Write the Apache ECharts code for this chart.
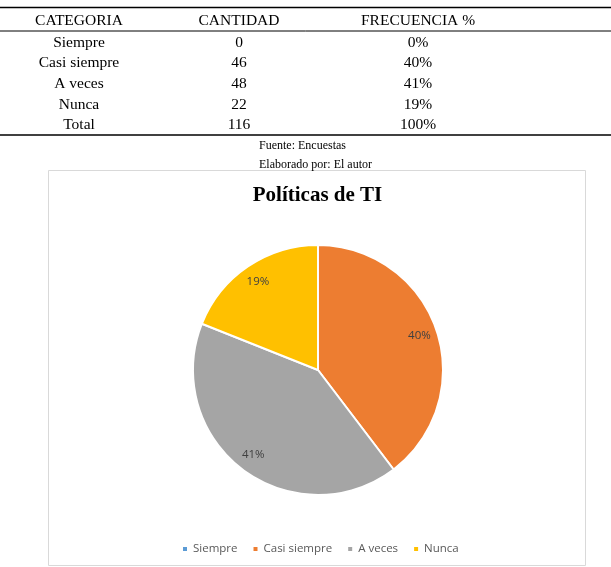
<!DOCTYPE html>
<html>
<head>
<meta charset="utf-8">
<script src="https://cdn.jsdelivr.net/npm/echarts@6/dist/echarts.min.js"></script>
<style>
  html, body { margin: 0; padding: 0; background: #fff; }
  #chart { width: 611px; height: 567px; }
</style>
</head>
<body>
<div id="chart"></div>
<script>
// datos de la tabla y del grafico
const headers = ['CATEGORIA', 'CANTIDAD', 'FRECUENCIA %']
const categories = ['Siempre', 'Casi siempre', 'A veces', 'Nunca']
const counts = [0, 46, 48, 22]
const freqLabels = ['0%', '40%', '41%', '19%']
const totalRow = ['Total', '116', '100%']
const notes = ['Fuente: Encuestas', 'Elaborado por: El autor']
const chartTitle = 'Políticas de TI'
const colors = ['#5B9BD5', '#ED7D31', '#A5A5A5', '#FFC000']

const colX = [79, 239, 418]
const rowY = [20.5, 42.5, 63, 83.5, 104.5, 125]
const serif = '"Liberation Serif", "Times New Roman", serif'
const sans = '"Open Sans", Lato, sans-serif'

// tabla como elementos graficos
const graphic = []
const cellText = (txt, x, y) => ({
  type: 'text', x: x, y: y, silent: true,
  style: { text: txt, font: '15.5px ' + serif, fill: '#000', align: 'center', verticalAlign: 'middle' }
})
headers.forEach((h, i) => graphic.push(cellText(h, colX[i], rowY[0])))
categories.forEach((c, r) => {
  const row = [c, String(counts[r]), freqLabels[r]]
  row.forEach((v, i) => graphic.push(cellText(v, colX[i], rowY[r + 1])))
})
totalRow.forEach((v, i) => graphic.push(cellText(v, colX[i], rowY[5])))
notes.forEach((n, i) => graphic.push({
  type: 'text', x: 259, y: 146 + i * 19, silent: true,
  style: { text: n, font: '12px ' + serif, fill: '#000', align: 'left', verticalAlign: 'middle' }
}))
const hLine = (y, w) => ({
  type: 'line', silent: true,
  shape: { x1: 0, y1: y, x2: 611, y2: y },
  style: { stroke: '#000', lineWidth: w }
})
graphic.push(hLine(7.5, 1.6), hLine(31, 1), hLine(135, 1.6))
// marco del grafico
graphic.push({
  type: 'rect', silent: true, z: -1,
  shape: { x: 48.5, y: 170.5, width: 537, height: 395 },
  style: { fill: '#fff', stroke: '#d9d9d9', lineWidth: 1 }
})
// titulo
graphic.push({
  type: 'text', x: 317.5, y: 196, silent: true,
  style: { text: chartTitle, font: 'bold 21px ' + serif, fill: '#000', align: 'center', verticalAlign: 'middle' }
})

const pieData = categories.map((c, i) => ({ name: c, value: counts[i] }))

const myChart = echarts.init(document.getElementById('chart'))
myChart.setOption({
  animation: false,
  backgroundColor: '#fff',
  color: colors,
  graphic: graphic,
  legend: {
    data: categories,
    top: 538,
    left: 176,
    icon: 'rect',
    itemWidth: 6,
    itemHeight: 6,
    itemGap: 14,
    textStyle: { fontFamily: sans, fontSize: 11.5, color: '#595959' }
  },
  series: [
    {
      type: 'pie',
      center: [318, 370],
      radius: [0, 125],
      startAngle: 90,
      clockwise: true,
      silent: true,
      data: pieData,
      itemStyle: { borderColor: '#fff', borderWidth: 2 },
      label: { show: false },
      labelLine: { show: false }
    },
    {
      // anillo invisible solo para ubicar las etiquetas
      type: 'pie',
      center: [318, 370],
      radius: [83, 125],
      startAngle: 90,
      clockwise: true,
      silent: true,
      percentPrecision: 0,
      data: pieData,
      itemStyle: { color: 'rgba(0,0,0,0)', borderWidth: 0 },
      label: {
        show: true,
        position: 'inside',
        formatter: p => (p.value ? p.percent + '%' : ''),
        fontFamily: sans,
        fontSize: 11.5,
        color: '#404040'
      },
      labelLine: { show: false }
    }
  ]
})
</script>
</body>
</html>
